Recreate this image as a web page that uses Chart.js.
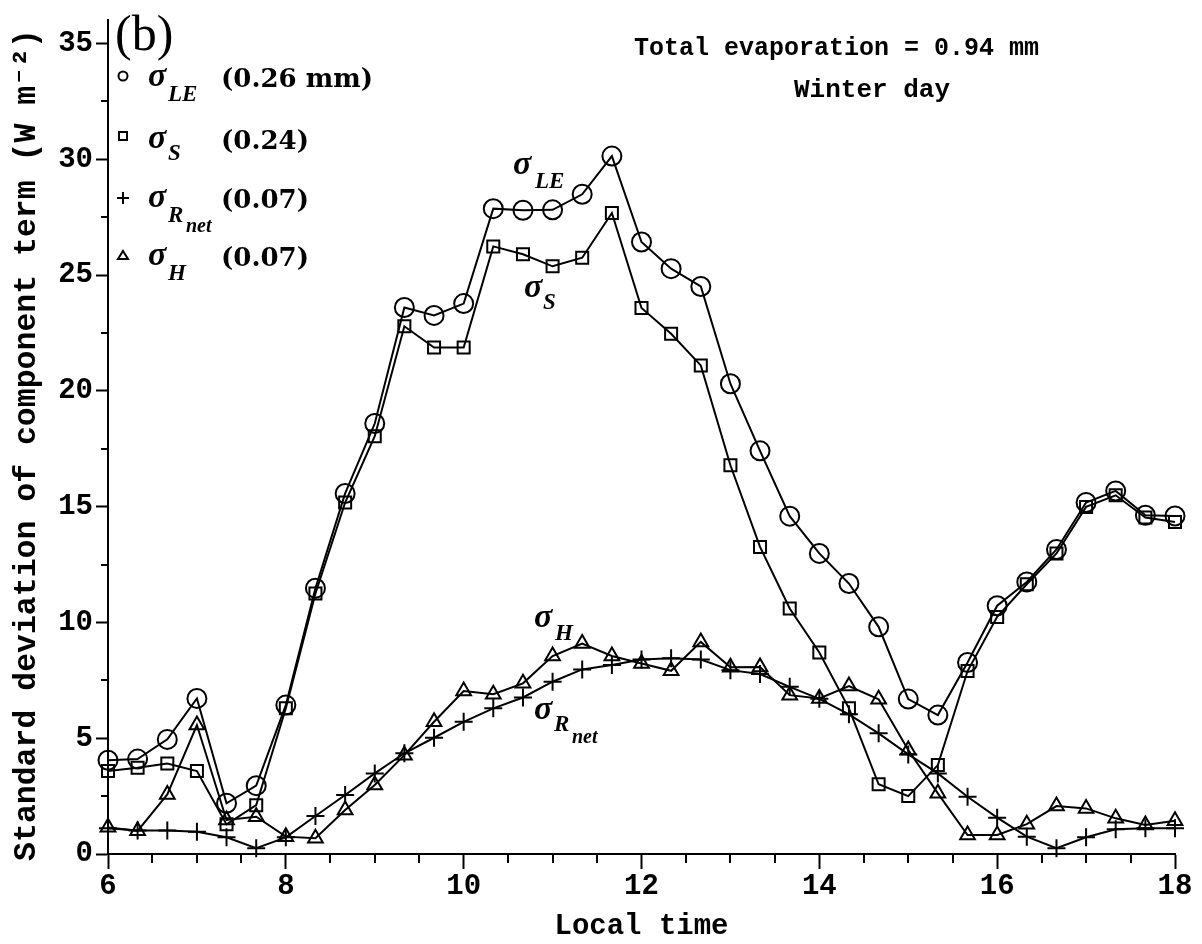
<!DOCTYPE html>
<html><head><meta charset="utf-8">
<script src="https://cdn.jsdelivr.net/npm/chart.js@4/dist/chart.umd.min.js"></script>
<style>html,body{margin:0;padding:0;background:#fff}#wrap{width:1202px;height:944px}</style>
</head><body><div id="wrap"><canvas id="c" width="1202" height="944"></canvas></div>
<script>
// Local time (hours), one sample every 20 minutes
const hours = [6.000,6.333,6.667,7.000,7.333,7.667,8.000,8.333,8.667,9.000,9.333,9.667,10.000,10.333,10.667,11.000,11.333,11.667,12.000,12.333,12.667,13.000,13.333,13.667,14.000,14.333,14.667,15.000,15.333,15.667,16.000,16.333,16.667,17.000,17.333,17.667,18.000];
const sigmaLE = [4.05,4.10,4.95,6.72,2.19,2.95,6.43,11.48,15.57,18.59,23.60,23.26,23.77,27.87,27.80,27.82,28.49,30.14,26.43,25.28,24.51,20.31,17.41,14.59,12.98,11.68,9.81,6.69,6.00,8.27,10.72,11.75,13.15,15.18,15.68,14.63,14.60];
const sigmaS = [3.58,3.72,3.91,3.58,1.28,2.11,6.29,11.25,15.18,18.04,22.79,21.87,21.87,26.24,25.90,25.38,25.75,27.68,23.58,22.47,21.10,16.79,13.26,10.60,8.70,6.29,3.01,2.50,3.84,7.90,10.24,11.65,12.98,14.99,15.49,14.53,14.34];
const sigmaRnet = [1.11,1.01,1.01,0.96,0.72,0.25,0.72,1.64,2.55,3.48,4.35,5.02,5.71,6.29,6.76,7.44,7.97,8.16,8.40,8.45,8.40,7.94,7.77,7.22,6.70,6.03,5.21,4.30,3.48,2.47,1.57,0.75,0.25,0.72,1.07,1.11,1.11];
const sigmaH = [1.15,1.00,2.57,5.57,1.47,1.61,0.75,0.68,1.90,2.98,4.27,5.71,7.04,6.90,7.37,8.55,9.09,8.55,8.23,7.91,9.16,8.06,8.08,6.86,6.72,7.25,6.68,4.49,2.62,0.82,0.82,1.29,2.07,1.97,1.54,1.25,1.44];

const xTickValues = [6,8,10,12,14,16,18];
const xMinorTicks = [6.5,7,7.5,8.5,9,9.5,10.5,11,11.5,12.5,13,13.5,14.5,15,15.5,16.5,17,17.5];
const yTickValues = [0,5,10,15,20,25,30,35];
const yMinorTicks = [2.5,7.5,12.5,17.5,22.5,27.5,32.5];

const legendValues = ['(0.26 mm)','(0.24)','(0.07)','(0.07)'];
const noteLines = ['Total evaporation = 0.94 mm','Winter day'];
const panelLabel = '(b)';
const xTitle = 'Local time';
const yTitle = 'Standard deviation of component term (W m\u207B\u00B2)';

const MONO = "'Liberation Mono', 'Courier New', monospace";
const SERIF = "'Liberation Serif', 'Times New Roman', serif";
const DSERIF = "'DejaVu Serif', serif";

function pts(arr){ return hours.map((h,i)=>({x:h,y:arr[i]})); }
function ds(label, arr, style, r){
  return {label, data:pts(arr), borderColor:'#000', borderWidth:2, backgroundColor:'transparent',
    pointStyle:style, pointRadius:r, pointHoverRadius:r, pointBorderColor:'#000', pointBorderWidth:2,
    pointBackgroundColor:'transparent', tension:0, fill:false, clip:false};
}

function sigma(ctx, x, y, sub, subX, subY, sub2, sub2X, sub2Y){
  ctx.font = "bold italic 34px " + SERIF;
  ctx.fillText('\u03C3', x, y);
  ctx.font = "bold italic 23px " + SERIF;
  ctx.fillText(sub, subX, subY);
  if (sub2){ ctx.font = "bold italic 20px " + SERIF; ctx.fillText(sub2, sub2X, sub2Y); }
}

const decor = {
  id:'decor',
  afterDraw(chart){
    const {ctx, scales:{x, y}} = chart;
    ctx.save();
    // minor ticks
    ctx.strokeStyle = '#000'; ctx.lineWidth = 2;
    yMinorTicks.forEach(v=>{ const p = Math.round(y.getPixelForValue(v)); ctx.beginPath(); ctx.moveTo(x.left-7, p); ctx.lineTo(x.left, p); ctx.stroke(); });
    xMinorTicks.forEach(v=>{ const p = Math.round(x.getPixelForValue(v)); ctx.beginPath(); ctx.moveTo(p, y.bottom); ctx.lineTo(p, y.bottom+9); ctx.stroke(); });

    ctx.fillStyle = '#000'; ctx.textBaseline = 'alphabetic'; ctx.textAlign = 'left';
    // y-axis title
    ctx.save();
    ctx.translate(27, 445); ctx.rotate(-Math.PI/2);
    ctx.textAlign = 'center'; ctx.textBaseline = 'middle';
    ctx.font = "bold 31.5px " + MONO;
    ctx.fillText(yTitle, 0, 0);
    ctx.restore();
    // panel label
    ctx.font = "50px " + SERIF;
    ctx.fillText(panelLabel, 115, 50);
    // notes
    ctx.font = "bold 25px " + MONO;
    ctx.fillText(noteLines[0], 634, 55);
    ctx.font = "bold 26px " + MONO;
    ctx.fillText(noteLines[1], 794, 97);

    // legend symbols
    ctx.lineWidth = 2;
    ctx.beginPath(); ctx.arc(123, 76, 4.5, 0, Math.PI*2); ctx.stroke();
    ctx.strokeRect(119, 132, 8, 8);
    ctx.beginPath(); ctx.moveTo(117, 198); ctx.lineTo(129, 198); ctx.moveTo(123, 192); ctx.lineTo(123, 204); ctx.stroke();
    ctx.beginPath(); ctx.moveTo(123, 251); ctx.lineTo(128, 259); ctx.lineTo(118, 259); ctx.closePath(); ctx.stroke();

    // legend labels
    sigma(ctx, 148, 86, 'LE', 168, 101);
    sigma(ctx, 148, 148, 'S', 168, 160);
    sigma(ctx, 148, 207, 'R', 168, 222, 'net', 186, 232);
    sigma(ctx, 148, 265, 'H', 168, 280);
    ctx.font = "bold 26px " + DSERIF;
    ctx.fillText(legendValues[0], 221, 87);
    ctx.fillText(legendValues[1], 221, 149);
    ctx.fillText(legendValues[2], 221, 208);
    ctx.fillText(legendValues[3], 221, 266);

    // in-plot labels
    sigma(ctx, 513, 174, 'LE', 535, 188);
    sigma(ctx, 524, 297, 'S', 543, 309);
    sigma(ctx, 534, 627, 'H', 555, 640);
    sigma(ctx, 534, 719, 'R', 554, 731, 'net', 572, 743);
    ctx.restore();
  }
};

new Chart(document.getElementById('c'), {
  type:'line',
  data:{datasets:[
    ds('\u03C3LE', sigmaLE, 'circle', 9.5),
    ds('\u03C3S', sigmaS, 'rect', 8.5),
    ds('\u03C3Rnet', sigmaRnet, 'cross', 9),
    ds('\u03C3H', sigmaH, 'triangle', 8.5)
  ]},
  options:{
    responsive:false, animation:false, devicePixelRatio:1,
    layout:{padding:{left:0, right:27, top:20, bottom:0}},
    plugins:{legend:{display:false}, tooltip:{enabled:false}},
    scales:{
      x:{type:'linear', min:6, max:18,
        afterBuildTicks(s){ s.ticks = xTickValues.map(v=>({value:v})); },
        ticks:{font:{family:MONO, size:29, weight:'bold'}, color:'#000', padding:0, maxRotation:0, autoSkip:false},
        grid:{drawOnChartArea:false, drawTicks:true, tickLength:15, tickWidth:2, tickColor:'#000'},
        border:{display:true, color:'#000', width:2},
        title:{display:true, text:xTitle, font:{family:MONO, size:29, weight:'bold'}, color:'#000', padding:{top:0, bottom:0}},
        afterFit(s){ s.height = 90; }
      },
      y:{type:'linear', min:0, max:36,
        afterBuildTicks(s){ s.ticks = yTickValues.map(v=>({value:v})); },
        ticks:{font:{family:MONO, size:29, weight:'bold'}, color:'#000', padding:3, autoSkip:false},
        grid:{drawOnChartArea:false, drawTicks:true, tickLength:12, tickWidth:2, tickColor:'#000'},
        border:{display:true, color:'#000', width:2},
        title:{display:false},
        afterFit(s){ s.width = 108; }
      }
    }
  },
  plugins:[decor]
});
</script></body></html>
